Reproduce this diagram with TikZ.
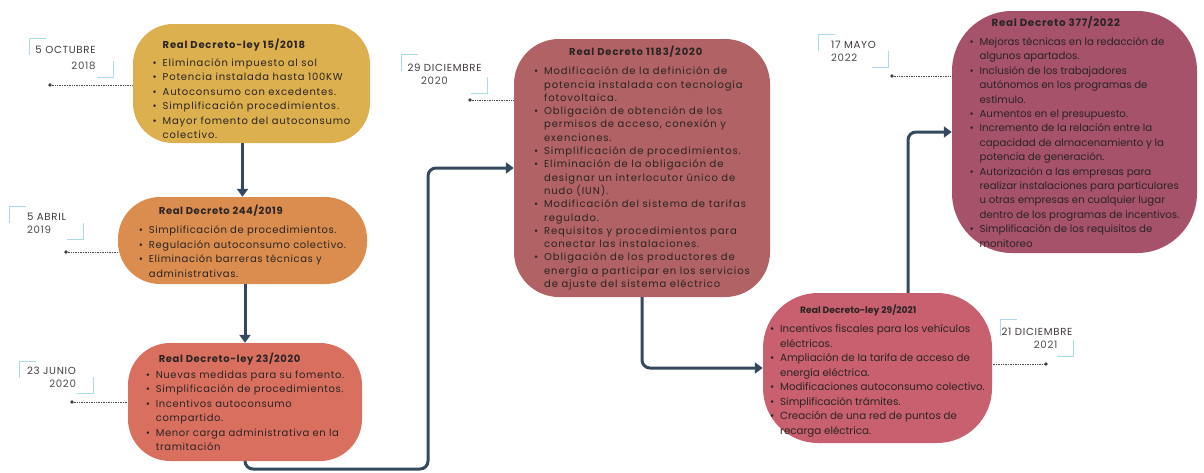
\documentclass[tikz,border=0pt]{standalone}
\usepackage{fontspec}
\setmainfont{Poppins}
\usetikzlibrary{arrows.meta}
\definecolor{oro}{HTML}{DDB04F}
\definecolor{naranja}{HTML}{DA8D4E}
\definecolor{salmon}{HTML}{D9705F}
\definecolor{granate}{HTML}{B06264}
\definecolor{rosa}{HTML}{C8606F}
\definecolor{vino}{HTML}{A5526A}
\definecolor{pizarra}{HTML}{34495E}
\definecolor{celeste}{HTML}{A9DCE6}
\definecolor{tinta}{HTML}{2B2424}
\newcommand{\vineta}{\makebox[10pt][l]{\textbullet}}
\newcommand{\sangria}{\hspace*{10pt}}
\begin{document}
\begin{tikzpicture}[x=1pt, y=-1pt, caja/.style={rectangle, align=left, inner sep=0pt, text=tinta, font=\fontsize{10}{14.5}\selectfont\addfontfeature{LetterSpace=6}}, fecha/.style={rectangle, inner sep=0pt, text=tinta!90, font=\fontsize{10.2}{13}\selectfont\addfontfeature{LetterSpace=7}}, esquina/.style={celeste, line width=1.2pt}, flecha/.style={pizarra, line width=3pt, rounded corners=8pt, -{Triangle[length=8pt, width=11pt]}}, guia/.style={densely dotted, line width=0.7pt, black!70}]
	\useasboundingbox (0,0) rectangle (1204,472);
	% cajas de los decretos
	\node[caja, fill=oro, rounded corners=40pt, minimum width=237pt, minimum height=119pt, font=\fontsize{10}{14.5}\selectfont\addfontfeature{LetterSpace=8}] (B1) at (251.5,83.5) {\rule{0pt}{20pt}\sangria\textbf{Real Decreto-ley 15/2018}\\[3.5pt]
		\vineta Eliminación impuesto al sol\\
		\vineta Potencia instalada hasta 100KW\\
		\vineta Autoconsumo con excedentes.\\
		\vineta Simplificación procedimientos.\\
		\vineta Mayor fomento del autoconsumo\\
		\sangria colectivo.};
	\node[caja, fill=naranja, rounded corners=42pt, minimum width=249pt, minimum height=87pt] (B2) at (242.5,240.5) {\rule{0pt}{11pt}\hspace*{20pt}\textbf{Real Decreto 244/2019}\\[5pt]
		\vineta Simplificación de procedimientos.\\
		\vineta Regulación autoconsumo colectivo.\\
		\vineta Eliminación barreras técnicas y\\
		\sangria administrativas.};
	\node[caja, fill=salmon, rounded corners=42pt, minimum width=234pt, minimum height=118pt] (B3) at (245,402) {\hspace*{13pt}\textbf{Real Decreto-ley 23/2020}\\[1.5pt]
		\vineta Nuevas medidas para su fomento.\\
		\vineta Simplificación de procedimientos.\\
		\vineta Incentivos autoconsumo\\
		\sangria compartido.\\
		\vineta Menor carga administrativa en la\\
		\sangria tramitación};
	\node[caja, fill=granate, rounded corners=45pt, minimum width=256pt, minimum height=258pt, font=\fontsize{10}{13.3}\selectfont\addfontfeature{LetterSpace=9}] (B4) at (642,168) {\hspace*{35pt}\textbf{Real Decreto 1183/2020}\\[6pt]
		\vineta Modificación de la definición de\\
		\sangria potencia instalada con tecnología\\
		\sangria fotovoltaica.\\
		\vineta Obligación de obtención de los\\
		\sangria permisos de acceso, conexión y\\
		\sangria exenciones.\\
		\vineta Simplificación de procedimientos.\\
		\vineta Eliminación de la obligación de\\
		\sangria designar un interlocutor único de\\
		\sangria nudo (IUN).\\
		\vineta Modificación del sistema de tarifas\\
		\sangria regulado.\\
		\vineta Requisitos y procedimientos para\\
		\sangria conectar las instalaciones.\\
		\vineta Obligación de los productores de\\
		\sangria energía a participar en los servicios\\
		\sangria de ajuste del sistema eléctrico};
	\node[caja, fill=rosa, rounded corners=55pt, minimum width=229pt, minimum height=150pt, font=\fontsize{10.3}{14.5}\selectfont] (B5) at (877.5,368) {\rule{0pt}{14pt}\hspace*{30pt}{\fontsize{9.2}{10}\selectfont\bfseries Real Decreto-ley 29/2021}\\[5pt]
		\vineta Incentivos fiscales para los vehículos\\
		\sangria eléctricos.\\
		\vineta Ampliación de la tarifa de acceso de\\
		\sangria energía eléctrica.\\
		\vineta Modificaciones autoconsumo colectivo.\\
		\vineta Simplificación trámites.\\
		\vineta Creación de una red de puntos de\\
		\sangria recarga eléctrica.};
	\node[caja, fill=vino, rounded corners=60pt, minimum width=245pt, minimum height=242pt, font=\fontsize{10.2}{14.4}\selectfont] (B6) at (1074.5,132) {\hspace*{22pt}{\fontsize{10.3}{12}\selectfont\addfontfeature{LetterSpace=7}\bfseries Real Decreto 377/2022}\\[4.5pt]
		\vineta Mejoras técnicas en la redacción de\\
		\sangria algunos apartados.\\
		\vineta Inclusión de los trabajadores\\
		\sangria autónomos en los programas de\\
		\sangria estímulo.\\
		\vineta Aumentos en el presupuesto.\\
		\vineta Incremento de la relación entre la\\
		\sangria capacidad de almacenamiento y la\\
		\sangria potencia de generación.\\
		\vineta Autorización a las empresas para\\
		\sangria realizar instalaciones para particulares\\
		\sangria u otras empresas en cualquier lugar\\
		\sangria dentro de los programas de incentivos.\\
		\vineta Simplificación de los requisitos de\\
		\sangria monitoreo};
	% fechas
	\node[fecha, align=right, minimum width=83pt, minimum height=38pt] (D1) at (71.5,58) {5 OCTUBRE\makebox[12pt]{}\\[3pt]\textcolor{black!70}{2018}\makebox[12pt]{}};
	\node[fecha, align=left, minimum width=73pt, minimum height=32pt] (D2) at (46.5,223) {5 ABRIL\\\textcolor{black!70}{2019}};
	\node[fecha, align=right, minimum width=73pt, minimum height=31pt] (D3) at (56.5,377.5) {23 JUNIO\makebox[10pt]{}\\\textcolor{black!70}{2020}\makebox[10pt]{}};
	\node[fecha, align=center, minimum width=85pt, minimum height=38pt] (D4) at (444.5,74) {29 DICIEMBRE\\\textcolor{black!70}{2020}\makebox[20pt]{}};
	\node[fecha, align=left, minimum width=69pt, minimum height=32pt] (D5) at (853.5,51) {17 MAYO\\\textcolor{black!70}{2022}};
	\node[fecha, align=right, minimum width=72pt, minimum height=36pt] (D6) at (1037,338) {21 DICIEMBRE\\\textcolor{black!70}{2021}\makebox[15pt]{}};
	\foreach \i in {1,...,6} {
		\draw[esquina] ([yshift=-16pt]D\i.north west) -- (D\i.north west) -- ++(16,0);
		\draw[esquina] ([yshift=16pt]D\i.south east) -- (D\i.south east) -- ++(-16,0);
	}
	% puntos y guias
	\coordinate (P1) at (50,85);
	\coordinate (P2) at (66,252);
	\coordinate (P3) at (72,402);
	\coordinate (P4) at (470,100);
	\coordinate (P5) at (892,76);
	\coordinate (P6) at (1046,364);
	\foreach \i/\b in {1/1,2/2,3/3,4/4,5/6}
	\draw[guia] (P\i) -- (B\b.west |- P\i);
	\draw[guia] (P6) -- (B5.east |- P6);
	\foreach \i in {1,...,6}
	\fill[black!75] (P\i) circle (1.8pt);
	% flechas
	\coordinate (K1) at (428,469);
	\coordinate (K2) at (908,0);
	\draw[flecha] (B1.south -| B2.north) -- (B2.north);
	\draw[flecha] (B2.south -| B3.north) -- (B3.north);
	\draw[flecha] (B3.south) |- (K1) |- (B4.west);
	\draw[flecha] (B4.south) |- (B5.west);
	\draw[flecha] (K2 |- B5.north) |- (B6.west);
\end{tikzpicture}
\end{document}
